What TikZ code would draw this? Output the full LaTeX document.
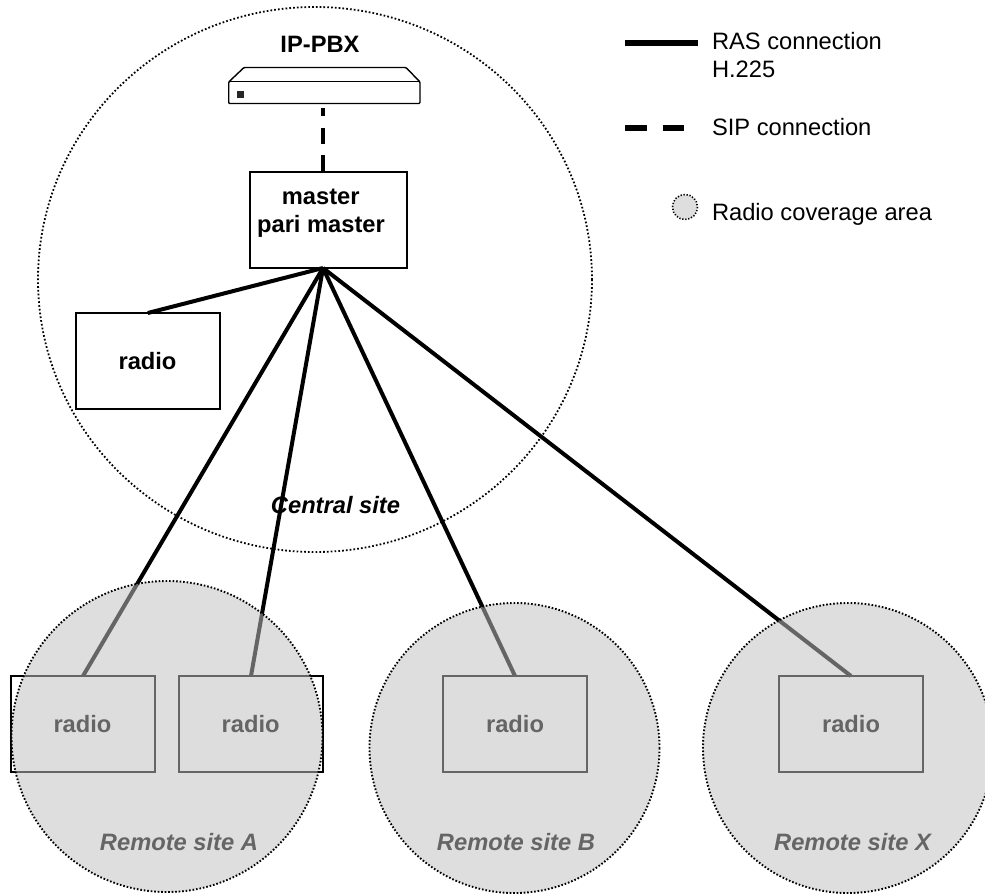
\documentclass[tikz,border=0pt]{standalone}
\usepackage{fontspec}
\setmainfont{Liberation Sans}
\tikzset{
  every node/.style={inner sep=0pt,outer sep=0pt},
  boxn/.style={draw=black,line width=2pt,fill=white,minimum width=144pt,minimum height=96pt},
  link/.style={line width=4pt,black},
  sip/.style={line width=4pt,black,dash pattern=on 8pt off 12pt on 16.3pt off 11.3pt on 17pt},
  txt/.style={anchor=base,font=\fontsize{23.7pt}{26pt}\selectfont},
  btxt/.style={txt,font=\fontsize{23.7pt}{26pt}\selectfont\bfseries},
  itxt/.style={txt,font=\fontsize{23.7pt}{26pt}\selectfont\bfseries\itshape},
  ltxt/.style={anchor=base west,font=\fontsize{23.7pt}{26pt}\selectfont},
  area/.style={fill=areagray,fill opacity=.53},
  edge/.style={draw=black,line width=1.9pt,dash pattern=on 1.6pt off 1.9pt},
  edgethin/.style={draw=black,line width=1.8pt,dash pattern=on 1.7pt off 2.1pt},
}
\definecolor{areagray}{HTML}{C0C0C0}
\begin{document}
\begin{tikzpicture}[x=1pt,y=-1pt]
\useasboundingbox (0,0) rectangle (985,894);
\clip (0,0) rectangle (985,894);
% connector end points
\node[boxn,minimum width=157pt] (master) at (328.5,220) {};
\node[boxn] (rc) at (147.8,361) {};
\node[boxn] (ra1) at (83,724) {};
\node[boxn] (ra2) at (251,724) {};
\node[boxn] (rb) at (515,724) {};
\node[boxn] (rx) at (851,724) {};
\coordinate (hub) at (323,268);
% IP-PBX
\draw[line width=1.4pt,rounded corners=1pt,fill=white] (228.7,82) -- (244,67.5) -- (406,67.5) -- (420,82) -- (420,103.5) -- (228.7,103.5) -- cycle;
\draw[line width=1.4pt] (228.7,81.5) -- (420,81.5);
\node[fill=black!85,minimum width=7pt,minimum height=7pt] (led) at (240,94.5) {};
\coordinate (pbx) at (323,107.7);
\coordinate (mtop) at (323,172);
\draw[sip] (pbx) -- (mtop);
% links
\draw[link] (hub) -- (rc.north);
\draw[link] (hub) -- (ra1.north);
\draw[link] (hub) -- (ra2.north);
\draw[link] (hub) -- (rb.north);
\draw[link] (hub) -- (rx.north);
% labels
\node[btxt] (lpbx) at (320,52) {IP-PBX};
\node[btxt] (lm1) at (320.7,204) {master};
\node[btxt] (lm2) at (321,232.7) {pari master};
\node[btxt] (lrc) at (147.5,369) {radio};
\node[itxt] (lcs) at (335.5,513) {Central site};
\node[btxt] (lr1) at (82.5,732.7) {radio};
\node[btxt] (lr2) at (250.7,732.7) {radio};
\node[btxt] (lr3) at (515,732.7) {radio};
\node[btxt] (lr4) at (851,732.7) {radio};
\node[itxt] (lsa) at (179,850) {Remote site A};
\node[itxt] (lsb) at (516,850) {Remote site B};
\node[itxt] (lsx) at (852.5,850) {Remote site X};
% coverage areas
\path[area] (167,736.5) circle[radius=155.5];
\path[area] (514.5,748) circle[radius=145];
\path[area] (848,748) circle[radius=145];
\draw[edge] (167,736.5) circle[radius=155.5];
\draw[edge] (514.5,748) circle[radius=145];
\draw[edge] (848,748) circle[radius=145];
\draw[edgethin] (315,279.5) ellipse[x radius=277,y radius=272.5];
% legend
\coordinate (l1a) at (625,43); \coordinate (l1b) at (698,43);
\draw[line width=5.5pt] (l1a) -- (l1b);
\coordinate (l2a) at (625,128); \coordinate (l2b) at (684,128);
\draw[line width=5.5pt,dash pattern=on 22pt off 16pt] (l2a) -- (l2b);
\node[ltxt] (t1) at (712,49) {RAS connection};
\node[ltxt] (t2) at (712,77) {H.225};
\node[ltxt] (t3) at (712,135) {SIP connection};
\node[ltxt] (t4) at (712,220) {Radio coverage area};
\path[area] (685,207) circle[radius=12.5];
\draw[edge,line width=1.6pt,dash pattern=on 1.3pt off 1.7pt] (685,207) circle[radius=12.5];
\end{tikzpicture}
\end{document}
